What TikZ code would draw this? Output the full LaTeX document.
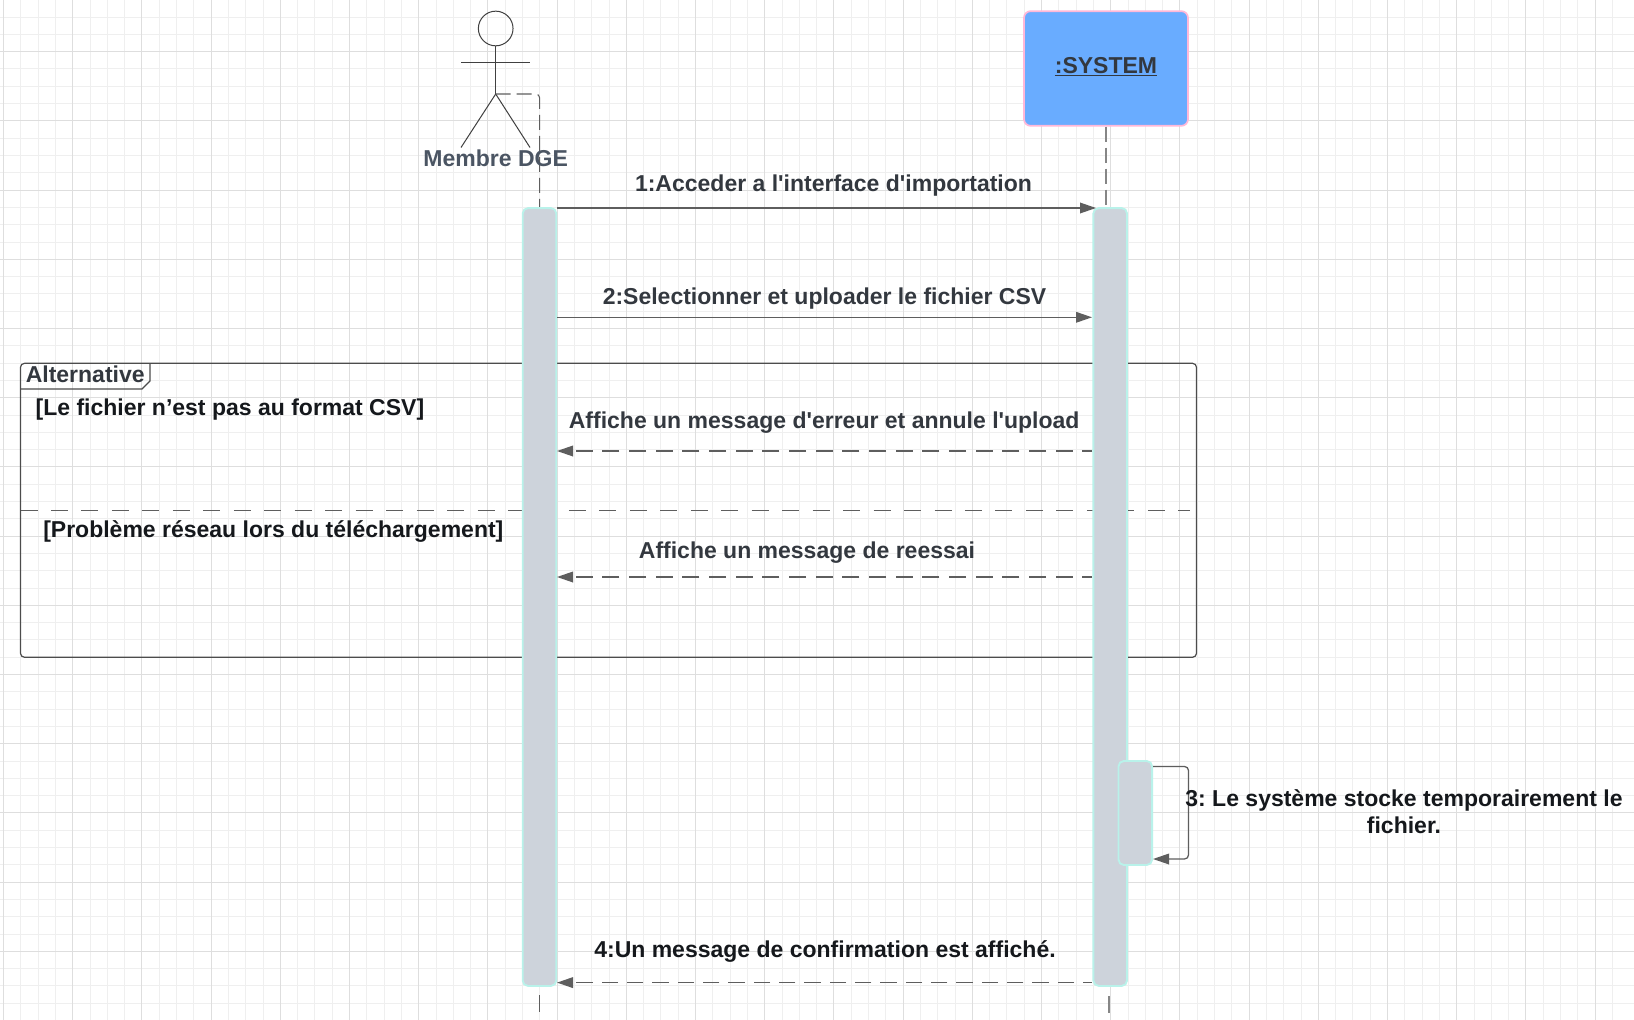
\documentclass[tikz,border=0pt]{standalone}
\usepackage{fontspec}
\newfontfamily\labelfont{Liberation Sans}
\usetikzlibrary{arrows.meta}
\definecolor{gridminor}{HTML}{EFEFEF}
\definecolor{gridmajor}{HTML}{DEDEDE}
\definecolor{barfill}{HTML}{CDD3DB}
\definecolor{barline}{HTML}{B9F2EA}
\definecolor{sysfill}{HTML}{69ACFF}
\definecolor{sysline}{HTML}{FFB8D8}
\definecolor{wire}{HTML}{5E5E5E}
\definecolor{msgtext}{HTML}{33383F}
\definecolor{nametext}{HTML}{4B5563}
\definecolor{darktext}{HTML}{15181C}
\begin{document}
\frenchspacing
\begin{tikzpicture}[x=0.75pt,y=-0.75pt,
  every path/.style={>={Triangle[length=12pt,width=8pt]}},
  every node/.style={font=\labelfont\fontsize{17.25}{20}\selectfont\bfseries,inner sep=0pt},
  bar/.style={draw=barline,fill=barfill,line width=1.4pt,rounded corners=4pt,minimum width=25.2pt},
  msg/.style={draw=wire,line width=0.95pt},
  reply/.style={msg,dash pattern=on 12.9pt off 7.1pt,dash phase=5.6pt},
  divider/.style={draw=wire,line width=1.05pt,dash pattern=on 12.75pt off 10.1pt},
  life/.style={draw=wire,line width=0.8pt,dash pattern=on 11.25pt off 4.5pt},
  stick/.style={draw=black!75,line width=0.75pt},
  label/.style={text=msgtext},
  guard/.style={text=darktext,anchor=west}]
\useasboundingbox (0,0) rectangle (1634,1020);
\fill[white] (0,0) rectangle (1634,1020);
% grid
\foreach \k in {0,...,93} \draw[gridminor,line width=0.75pt] ({3.5+17.3*\k},0) -- ({3.5+17.3*\k},1020);
\foreach \k in {0,...,59} \draw[gridminor,line width=0.75pt] (0,{-0.2+17.3*\k}) -- (1634,{-0.2+17.3*\k});
\foreach \k in {0,...,23} \draw[gridmajor,line width=0.75pt] ({3.5+69.2*\k},0) -- ({3.5+69.2*\k},1020);
\foreach \k in {0,...,15} \draw[gridmajor,line width=0.75pt] (0,{51.7+69.2*\k}) -- (1634,{51.7+69.2*\k});
% actor
\node[circle,stick,minimum size=26pt] (head) at (495.7,28.5) {};
\coordinate (hip) at (495.7,94);
\coordinate (armL) at (461,62.5);
\coordinate (armR) at (530,62.5);
\coordinate (legL) at (461,147.5);
\coordinate (legR) at (530,147.5);
\draw[stick] (head) -- (hip);
\draw[stick] (armL) -- (armR);
\draw[stick] (legL) -- (hip) -- (legR);
% system
\node[draw=sysline,fill=sysfill,line width=1.3pt,rounded corners=5pt,minimum width=123pt,minimum height=86pt,text=msgtext] (system) at (1106,68.5) {};
% frame
\node[draw=black!70,line width=0.9pt,rounded corners=3pt,minimum width=882pt,minimum height=220.5pt] (alt) at (608.5,510.3) {};
\coordinate (tabA) at (20.5,389);
\coordinate (tabB) at (142,389);
\coordinate (tabC) at (150,381);
\coordinate (tabD) at (150,363.6);
\draw[draw=black!70,line width=0.9pt] (tabA) -- (tabB) -- (tabC) -- (tabD);
\coordinate (sepL) at (20.5,510.6);
\coordinate (sepR) at (1190,510.6);
\draw[divider] (sepL) -- (sepR);
% lifelines
\coordinate (lifeA) at (539.7,94);
\coordinate (lifeAtop) at (539.7,208);
\coordinate (lifeAgap) at (539.4,995);
\coordinate (lifeAend) at (539.4,1012);
\coordinate (lifeStop) at (1106,208);
\coordinate (lifeSgap) at (1109,996);
\coordinate (lifeSend) at (1109,1013);
\draw[life,rounded corners=3pt] (hip) -- (lifeA) -- (lifeAtop);
\draw[draw=wire,line width=0.8pt] (lifeAgap) -- (lifeAend);
\draw[life,draw=wire!75,line width=1.05pt] (system.south) -- (lifeStop);
\draw[draw=wire!75,line width=1.05pt] (lifeSgap) -- (lifeSend);
% activations
\node[bar,minimum height=583.4pt] (barA) at (539.5,597) {};
\node[bar,minimum height=583.4pt] (barS) at (1110.2,597) {};
\node[bar,minimum height=78pt] (barT) at (1135.3,813) {};
% messages
\coordinate (a1) at (557,208);
\coordinate (s1) at (1096,208);
\coordinate (a2) at (557,317.3);
\coordinate (s2) at (1092,317.3);
\coordinate (a3) at (557,451);
\coordinate (s3) at (1092,451);
\coordinate (a4) at (557,577);
\coordinate (s4) at (1092,577);
\coordinate (a5) at (557,982.6);
\coordinate (s5) at (1092,982.6);
\coordinate (selfout) at (1153,766.5);
\coordinate (selfin) at (1153,859);
\draw[msg,->] (a1) -- (s1);
\draw[msg,->] (a2) -- (s2);
\draw[reply,->] (s3) -- (a3);
\draw[reply,->] (s4) -- (a4);
\draw[reply,->,dash pattern=on 12.4pt off 6.6pt] (s5) -- (a5);
\draw[msg,->,rounded corners=3pt] (selfout) -- (1188.5,766.5) -- (1188.5,859) -- (selfin);
% texts
\node[text=nametext] (actorname) at (495.7,158) {Membre DGE};
\node[text=msgtext] (systemname) at (1106,67) {\underline{:SYSTEM}};
\node[label] (m1) at (833.5,186) {1:Acceder a l'interface d'importation};
\node[label] (m2) at (824.5,299) {2:Selectionner et uploader le fichier CSV};
\node[label,anchor=west] (alttitle) at (25.5,374) {Alternative};
\node[guard] (g1) at (35.4,410) {[Le fichier n’est pas au format CSV]};
\node[guard] (g2) at (43,531) {[Problème réseau lors du téléchargement]};
\node[label] (m3) at (824.2,423) {Affiche un message d'erreur et annule l'upload};
\node[label] (m4) at (807,553) {Affiche un message de reessai};
\node[text=darktext,align=center] (m5) at (1404,811.5) {3: Le système stocke temporairement le\\fichier.};
\node[text=darktext] (m6) at (825,951) {4:Un message de confirmation est affiché.};
\end{tikzpicture}
\end{document}
